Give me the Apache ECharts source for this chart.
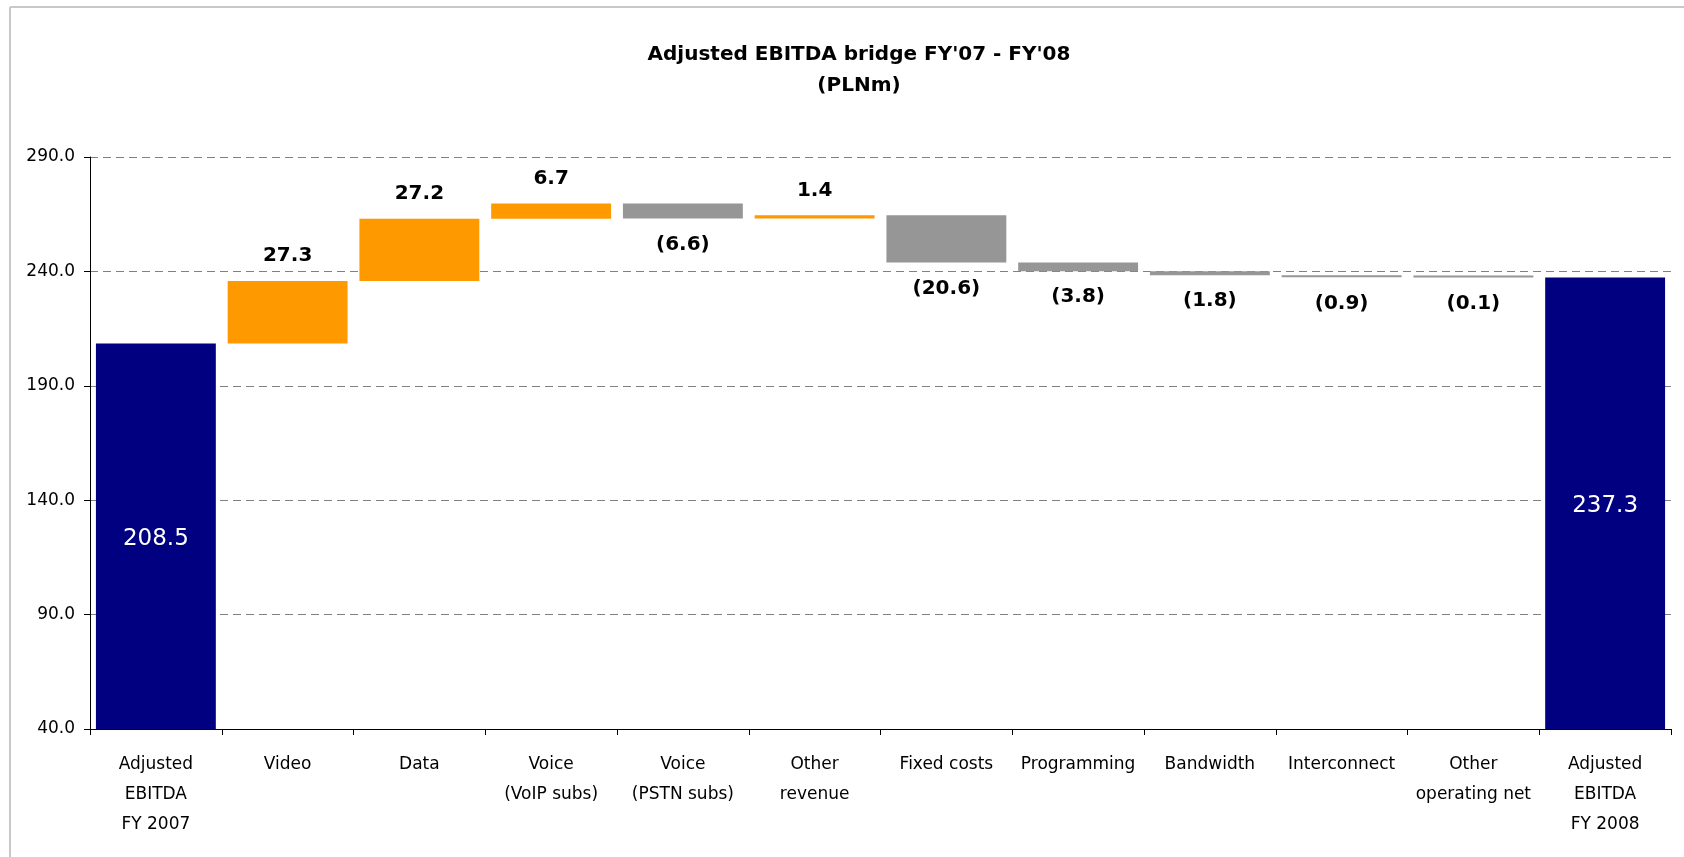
<!DOCTYPE html>
<html>
<head>
<meta charset="utf-8">
<script src="https://cdn.jsdelivr.net/npm/echarts@6/dist/echarts.min.js"></script>
<style>
html,body{margin:0;padding:0;background:#fff;}
#chart{width:1684px;height:857px;}
</style>
</head>
<body>
<div id="chart"></div>
<script>
const categories = ['Adjusted\nEBITDA\nFY 2007', 'Video', 'Data', 'Voice\n(VoIP subs)', 'Voice\n(PSTN subs)', 'Other\nrevenue', 'Fixed costs', 'Programming', 'Bandwidth', 'Interconnect', 'Other\noperating net', 'Adjusted\nEBITDA\nFY 2008'];
const startTotal = 208.5;
const changes = [27.3, 27.2, 6.7, -6.6, 1.4, -20.6, -3.8, -1.8, -0.9, -0.1];
const endTotal = 237.3;
const yTicks = [40, 90, 140, 190, 240, 290];

const COLORS = { total: '#000080', up: '#FF9900', down: '#969696' };
const FONT = 'DejaVu Sans';

// Build waterfall stacks
const baseData = [];
const barData = [];
baseData.push(0);
barData.push({ value: startTotal, kind: 'total' });
let running = startTotal;
changes.forEach(function (d) {
  if (d >= 0) {
    baseData.push(running);
    barData.push({ value: d, kind: 'up', raw: d });
  } else {
    baseData.push(running + d);
    barData.push({ value: -d, kind: 'down', raw: d });
  }
  running = running + d;
});
baseData.push(0);
barData.push({ value: endTotal, kind: 'total' });

const visData = barData.map(function (b) {
  let label;
  if (b.kind === 'total') {
    label = { show: true, position: 'inside', offset: [0, 3], color: '#ffffff', fontSize: 23, fontWeight: 'normal',
      formatter: b.value.toFixed(1) };
  } else if (b.kind === 'up') {
    label = { show: true, position: 'top', distance: 15, color: '#000', fontSize: 20, fontWeight: 'bold',
      formatter: b.raw.toFixed(1) };
  } else {
    label = { show: true, position: 'bottom', distance: 16, color: '#000', fontSize: 20, fontWeight: 'bold',
      formatter: '(' + Math.abs(b.raw).toFixed(1) + ')' };
  }
  return { value: b.value, itemStyle: { color: COLORS[b.kind] }, label: label };
});

const chart = echarts.init(document.getElementById('chart'), null, { renderer: 'canvas' });
chart.setOption({
  animation: false,
  backgroundColor: '#ffffff',
  textStyle: { fontFamily: FONT },
  title: {
    text: "Adjusted EBITDA bridge FY'07 - FY'08\n(PLNm)",
    left: 854,
    top: 34,
    textAlign: 'center',
    textStyle: { fontFamily: FONT, fontSize: 20, fontWeight: 'bold', color: '#000', lineHeight: 31 }
  },
  graphic: [
    { type: 'line', shape: { x1: 10, y1: 7, x2: 1684, y2: 7 }, style: { stroke: '#c8c8c8', lineWidth: 2 }, silent: true },
    { type: 'line', shape: { x1: 10, y1: 7, x2: 10, y2: 857 }, style: { stroke: '#c8c8c8', lineWidth: 2 }, silent: true }
  ],
  grid: { left: 90, right: 13, top: 157, bottom: 128, containLabel: false },
  xAxis: {
    type: 'category',
    data: categories,
    axisLine: { show: true, lineStyle: { color: '#000', width: 1 } },
    axisTick: { show: true, length: 6, alignWithLabel: false, interval: 0, lineStyle: { color: '#000' } },
    axisLabel: { interval: 0, margin: 21, fontSize: 17, lineHeight: 30, color: '#000', fontFamily: FONT, align: 'center' },
    splitLine: { show: false }
  },
  yAxis: {
    type: 'value',
    min: yTicks[0],
    max: yTicks[yTicks.length - 1],
    interval: yTicks[1] - yTicks[0],
    axisLine: { show: true, lineStyle: { color: '#000', width: 1 } },
    axisTick: { show: true, length: 6, lineStyle: { color: '#000' } },
    axisLabel: { margin: 15, fontSize: 17, color: '#000', fontFamily: FONT, formatter: function (v) { return v.toFixed(1); } },
    splitLine: { show: true, lineStyle: { color: '#808080', type: [8, 5], width: 1 } }
  },
  series: [
    {
      type: 'bar',
      stack: 'wf',
      data: baseData,
      itemStyle: { color: 'rgba(0,0,0,0)' },
      barWidth: '91%',
      silent: true,
      label: { show: false }
    },
    {
      type: 'bar',
      stack: 'wf',
      data: visData,
      barWidth: '91%',
      barMinHeight: 2,
      label: { fontFamily: FONT }
    }
  ]
});
</script>
</body>
</html>
